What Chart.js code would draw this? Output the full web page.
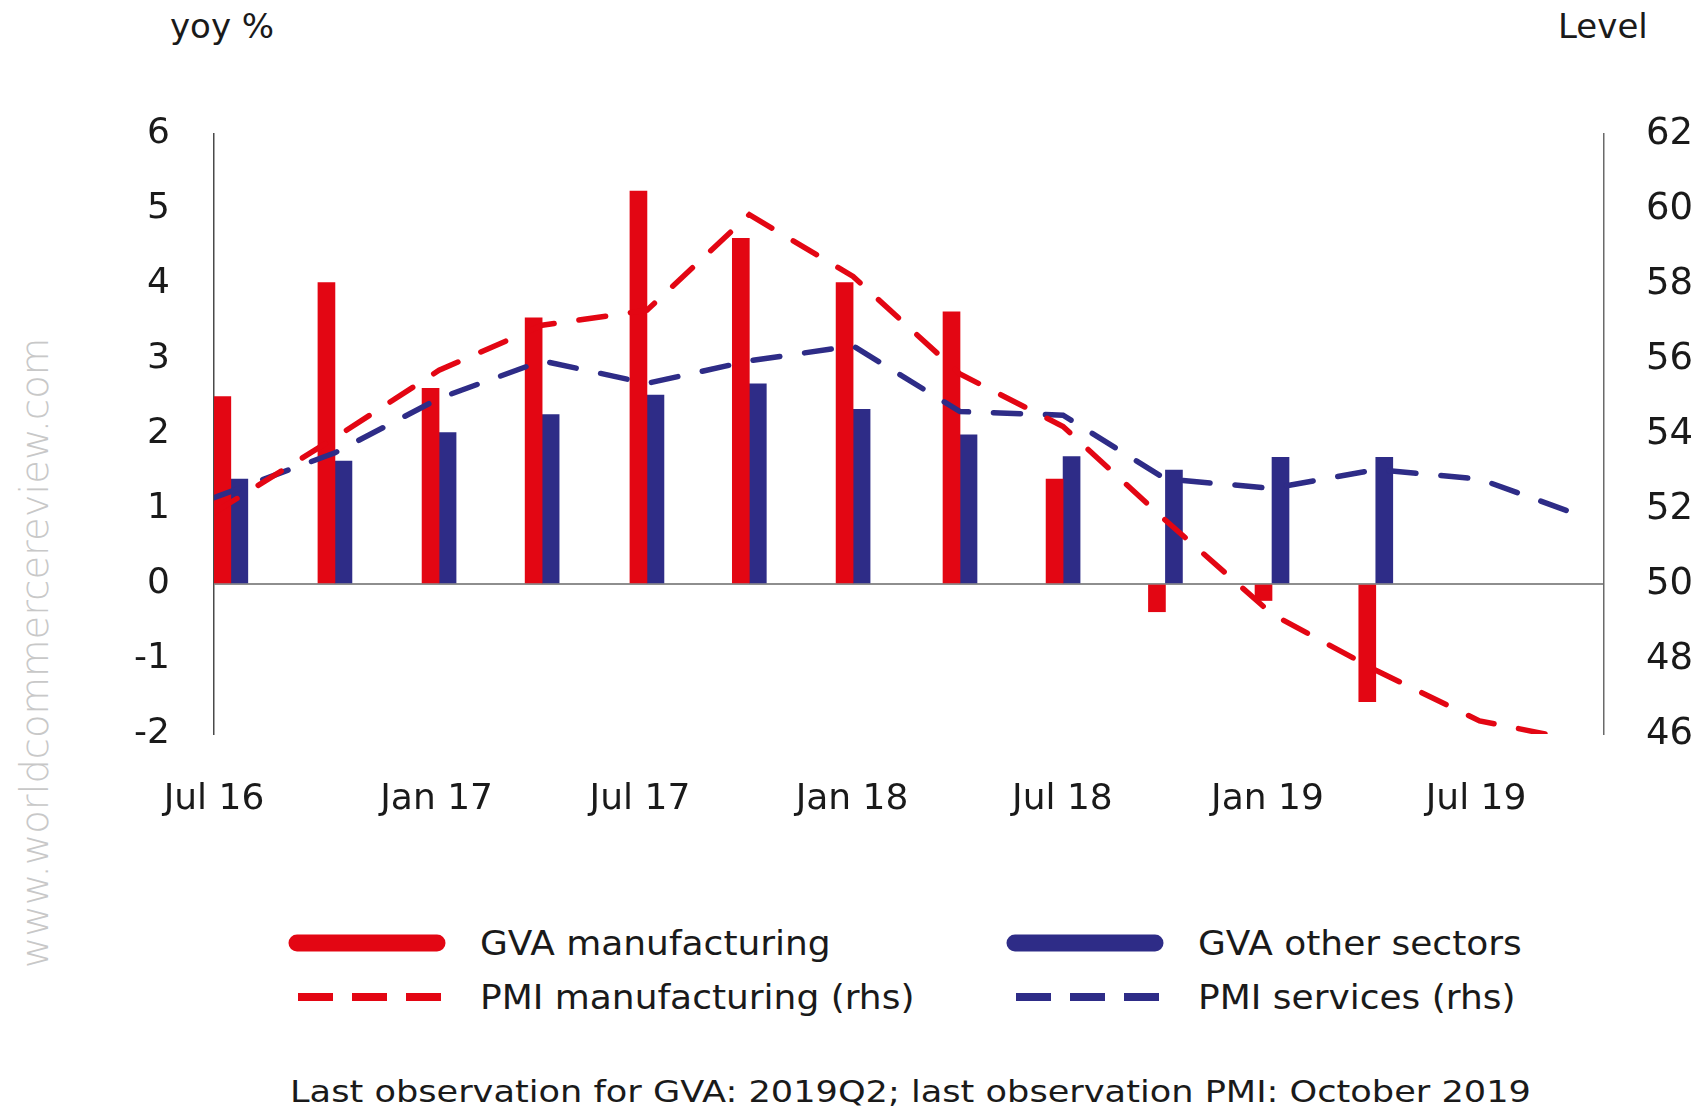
<!DOCTYPE html>
<html>
<head>
<meta charset="utf-8">
<script src="https://cdn.jsdelivr.net/npm/chart.js@4.4.1/dist/chart.umd.min.js"></script>
<style>
  html, body { margin: 0; padding: 0; background: #fff; }
  body { width: 1698px; height: 1117px; overflow: hidden; position: relative; font-family: "DejaVu Sans", sans-serif; color: #1a1a1a; }
  #my-chart { position: absolute; left: 0; top: 0; }
  .unit { position: absolute; font-size: 34px; line-height: 40px; white-space: nowrap; }
  .watermark { position: absolute; left: -315px; top: 633px; width: 700px; height: 40px; line-height: 40px;
    text-align: center; font-size: 38.5px; font-weight: 200; color: #c8c8c8; transform: rotate(-90deg); white-space: nowrap; }
  .legend-item { position: absolute; display: flex; align-items: center; font-size: 33px; white-space: nowrap; }
  .legend-item svg { margin-right: 34px; }
  .legend-item span { display: inline-block; transform: scaleX(1.09); transform-origin: left center; }
  .note { position: absolute; left: 290px; top: 1071px; font-size: 31px; line-height: 40px; white-space: nowrap;
    transform: scaleX(1.134); transform-origin: left center; }
</style>
</head>
<body>
<div class="unit" style="left:170px; top:6px;">yoy %</div>
<div class="unit" style="left:1558px; top:6px;">Level</div>
<div class="watermark">www.worldcommercereview.com</div>
<canvas id="my-chart" width="1760" height="880"></canvas>
<div id="legend"></div>
<div class="note">Last observation for GVA: 2019Q2; last observation PMI: October 2019</div>
<script>
// x positions are months since Jul 2016
const xTickMonths = [0, 6.35, 12.15, 18.2, 24.2, 30.05, 36];
const xTickLabels = ["Jul 16", "Jan 17", "Jul 17", "Jan 18", "Jul 18", "Jan 19", "Jul 19"];

// quarterly GVA, Q3 2016 - Q2 2019 (yoy %)
const gvaX = [0.48, 3.45, 6.42, 9.36, 12.35, 15.27, 18.23, 21.28, 24.22, 27.14, 30.18, 33.14];
const gvaManufacturing = [2.50, 4.02, 2.61, 3.55, 5.24, 4.61, 4.02, 3.63, 1.40, -0.37, -0.22, -1.57];
const gvaOther = [1.40, 1.64, 2.02, 2.26, 2.52, 2.67, 2.33, 1.99, 1.70, 1.52, 1.69, 1.69];

// PMI levels (rhs), quarterly averages up to Oct 2019
const pmiX = [0, 3.45, 6.42, 9.36, 12.35, 15.27, 18.23, 21.28, 24.22, 27.14, 30.18, 33.14, 36.1, 39.05];
const pmiManufacturing = [51.9, 53.9, 55.7, 56.9, 57.3, 59.85, 58.2, 55.6, 54.2, 51.7, 49.2, 47.7, 46.35, 45.8];
const pmiServices = [52.3, 53.5, 54.95, 55.95, 55.35, 55.95, 56.35, 54.6, 54.5, 52.8, 52.55, 53.05, 52.8, 51.8];

const red = "#e30613";
const blue = "#2e2c87";
const font = "'DejaVu Sans', sans-serif";

const toPoints = (xs, ys) => xs.map((x, i) => ({ x, y: ys[i] }));

const ctx = document.getElementById("my-chart").getContext("2d");

const myChart = new Chart(ctx, {
  data: {
    datasets: [
      {
        type: "bar",
        label: "GVA manufacturing",
        data: toPoints(gvaX, gvaManufacturing),
        backgroundColor: red,
        barThickness: 17,
        yAxisID: "yLeft",
        order: 2
      },
      {
        type: "bar",
        label: "GVA other sectors",
        data: toPoints(gvaX, gvaOther),
        backgroundColor: blue,
        barThickness: 17,
        yAxisID: "yLeft",
        order: 2
      },
      {
        type: "line",
        label: "PMI manufacturing (rhs)",
        data: toPoints(pmiX, pmiManufacturing),
        borderColor: red,
        borderWidth: 5.5,
        borderDash: [27, 25],
        borderCapStyle: "round",
        pointRadius: 0,
        tension: 0,
        yAxisID: "yRight",
        order: 0
      },
      {
        type: "line",
        label: "PMI services (rhs)",
        data: toPoints(pmiX, pmiServices),
        borderColor: blue,
        borderWidth: 5.5,
        borderDash: [27, 25],
        borderCapStyle: "round",
        pointRadius: 0,
        tension: 0,
        yAxisID: "yRight",
        order: 1
      }
    ]
  },
  options: {
    responsive: false,
    animation: false,
    devicePixelRatio: 1,
    layout: { padding: { top: 134, left: 0, right: 0, bottom: 0 } },
    plugins: { legend: { display: false }, tooltip: { enabled: false } },
    scales: {
      x: {
        type: "linear",
        offset: false,
        min: 0,
        max: 39.65,
        afterBuildTicks: (scale) => { scale.ticks = xTickMonths.map(v => ({ value: v })); },
        afterFit: (scale) => { scale.height = 880 - 734; },
        ticks: {
          callback: (v, i) => xTickLabels[i],
          autoSkip: false,
          maxRotation: 0,
          padding: 36,
          color: "#1a1a1a",
          font: { family: font, size: 36 }
        },
        grid: { display: false, offset: false },
        border: { display: false }
      },
      yLeft: {
        position: "left",
        min: -2,
        max: 6,
        afterFit: (scale) => { scale.width = 214; },
        ticks: { stepSize: 1, padding: 44, color: "#1a1a1a", font: { family: font, size: 36 } },
        grid: {
          drawTicks: false,
          lineWidth: 2,
          color: (c) => (c.tick && c.tick.value === 0 ? "#8e8e8e" : "rgba(0,0,0,0)")
        },
        border: { color: "#4a4a4a", width: 1.5 }
      },
      yRight: {
        position: "right",
        min: 46,
        max: 62,
        afterFit: (scale) => { scale.width = 1760 - 1604; },
        ticks: { stepSize: 2, padding: 42, color: "#1a1a1a", font: { family: font, size: 37 } },
        grid: { drawTicks: false, drawOnChartArea: false },
        border: { color: "#6a6a6a", width: 1.5 }
      }
    }
  }
});

// legend: two columns, bars on the first row, lines on the second
const legendBox = document.getElementById("legend");
const legendCols = [288, 1006];
const legendRows = [943, 997];
myChart.data.datasets.forEach((ds, i) => {
  const col = i % 2;
  const row = Math.floor(i / 2);
  const colour = ds.type === "bar" ? ds.backgroundColor : ds.borderColor;
  const symbol = ds.type === "bar"
    ? `<svg width="158" height="20"><line x1="9" y1="10" x2="149" y2="10" stroke="${colour}" stroke-width="17" stroke-linecap="round"/></svg>`
    : `<svg width="158" height="20"><line x1="10" y1="10" x2="154" y2="10" stroke="${colour}" stroke-width="8" stroke-dasharray="35 19"/></svg>`;
  const item = document.createElement("div");
  item.className = "legend-item";
  item.style.left = legendCols[col] + "px";
  item.style.top = (legendRows[row] - 20) + "px";
  item.style.height = "40px";
  item.innerHTML = symbol + `<span>${ds.label}</span>`;
  legendBox.appendChild(item);
});
</script>
</body>
</html>
